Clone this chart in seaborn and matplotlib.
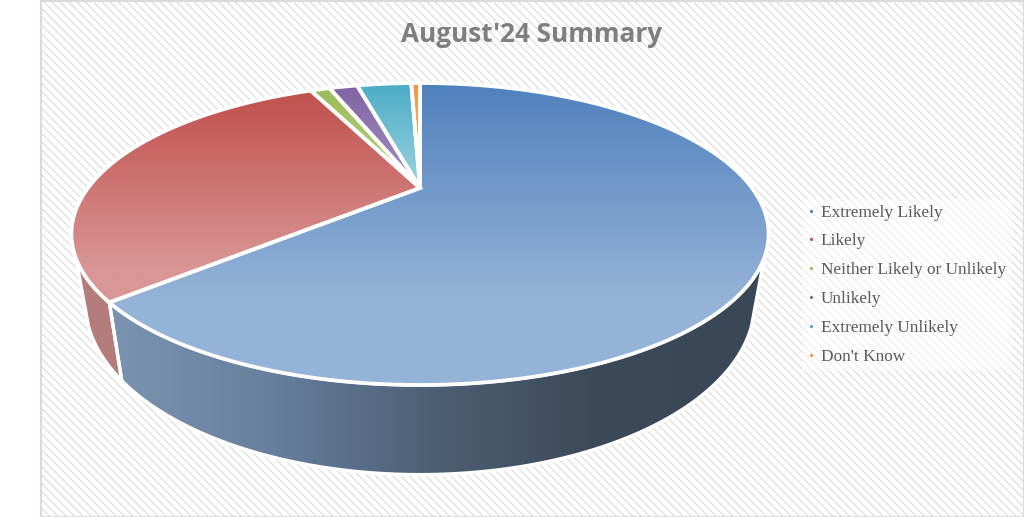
import numpy as np
import matplotlib
matplotlib.use("Agg")
import matplotlib.pyplot as plt
from matplotlib.colors import LinearSegmentedColormap
from matplotlib.lines import Line2D
from matplotlib.patches import Polygon, Rectangle
import seaborn as sns

categories = ["Extremely Likely", "Likely", "Neither Likely or Unlikely",
              "Unlikely", "Extremely Unlikely", "Don't Know"]
shares = [63.4, 29.7, 1.2, 1.75, 3.4, 0.55]
top_colors = ["#4F81BD", "#C0504D", "#9BBB59", "#8064A2", "#4BACC6", "#F79646"]
low_colors = ["#95B3D7", "#D99694", "#B5CE7F", "#A08BC0", "#92CDDC", "#FAB070"]
title = "August'24 Summary"

sns.set_theme(style="white")
plt.rcParams["hatch.linewidth"] = 0.9
fig = plt.figure(figsize=(10.24, 5.17), dpi=100)
ax = fig.add_axes([0, 0, 1, 1])
ax.set_axis_off()

# Perspective model of the tilted disc (figure in pixel space)
CX, CY, A, B, K, DEPTH, SHRINK = 420, 188, 137, 332, 0.3046, 62.3, 0.96

def project(theta, low=False):
    u, v = np.sin(theta), np.cos(theta)
    w = 1 + K * v
    x, y = CX + B * u / w, CY - A * v / w
    if low:
        x = CX + SHRINK * (x - CX)
        y = y + DEPTH / w
    return np.column_stack([x, y])

def shade(poly, stops, horizontal=False, z=2, extent=None):
    xs, ys = poly[:, 0], poly[:, 1]
    ext = extent or (xs.min(), xs.max(), ys.max(), ys.min())
    cmap = LinearSegmentedColormap.from_list("g", stops)
    g = np.linspace(0, 1, 256)
    g = g[None, :] if horizontal else g[:, None]
    im = ax.imshow(g, cmap=cmap, extent=ext, aspect="auto", zorder=z,
                   interpolation="bilinear", vmin=0, vmax=1)
    im.set_clip_path(Polygon(poly, transform=ax.transData))

# Background panel
ax.add_patch(Rectangle((40.5, 0.5), 983, 516, facecolor="white", edgecolor="#DEDEDE",
                       hatch="\\\\\\\\", lw=0, zorder=0))
ax.add_patch(Rectangle((40.5, 0.5), 983, 516, fill=False, edgecolor="#DADADA", lw=1.5, zorder=1))

edges = np.radians(np.concatenate([[0], np.cumsum(shares)]) * 3.6)

# Side walls (only the two big slices are visible at the front)
blue_top = np.linspace(np.radians(107.7), edges[1], 200)
blue_low = np.linspace(edges[1], np.radians(115), 200)
red_top = np.linspace(edges[1], np.radians(252.3), 120)
red_low = np.linspace(np.radians(245), edges[1], 120)
blue_wall = np.vstack([project(blue_top), project(blue_low, low=True)])
red_wall = np.vstack([project(red_top), project(red_low, low=True)])
shade(blue_wall, ["#3A4756", "#3C4958", "#4D5F75", "#66809E", "#7A94B2"], horizontal=True,
      extent=(760, 105, 480, 230))
shade(red_wall, ["#B57C7C", "#B67D7D"], horizontal=True)
for wall in (blue_wall, red_wall):
    ax.add_patch(Polygon(wall, closed=True, fill=False, edgecolor="white", lw=2.4, zorder=3))

# Top face
for i, (a, b) in enumerate(zip(edges[:-1], edges[1:])):
    t = np.linspace(a, b, max(int(np.degrees(b - a) * 2), 8))
    poly = np.vstack([[[CX, CY]], project(t)])
    stops = [(0, top_colors[i]), (0.72, low_colors[i]), (1, low_colors[i])] if i == 0 else \
            [(0, top_colors[i]), (0.85, low_colors[i]), (1, low_colors[i])]
    shade(poly, stops, z=4)
    ax.add_patch(Polygon(poly, closed=True, fill=False, edgecolor="white", lw=2.7,
                         joinstyle="miter", zorder=5))

ax.text(532, 34, title, ha="center", va="center", fontsize=18.8, fontweight="bold",
        family="Open Sans", color="#7F7F7F", zorder=6)

handles = [Line2D([], [], ls="", marker="o", ms=1.3, color=c) for c in top_colors]
leg = ax.legend(handles, categories, loc="upper left", bbox_to_anchor=(802, 198.5),
                bbox_transform=ax.transData, frameon=True, facecolor="white", framealpha=0.5,
                edgecolor="none", fancybox=False, handlelength=0.4, handletextpad=0.35,
                labelspacing=0.74, borderpad=0.35, borderaxespad=0,
                prop={"family": "Liberation Serif", "size": 12.4})
leg.set_zorder(6)
for t in leg.get_texts():
    t.set_color("#595959")

ax.set_xlim(0, 1024)
ax.set_ylim(517, 0)
fig.savefig("out.png", dpi=100, facecolor="white")
